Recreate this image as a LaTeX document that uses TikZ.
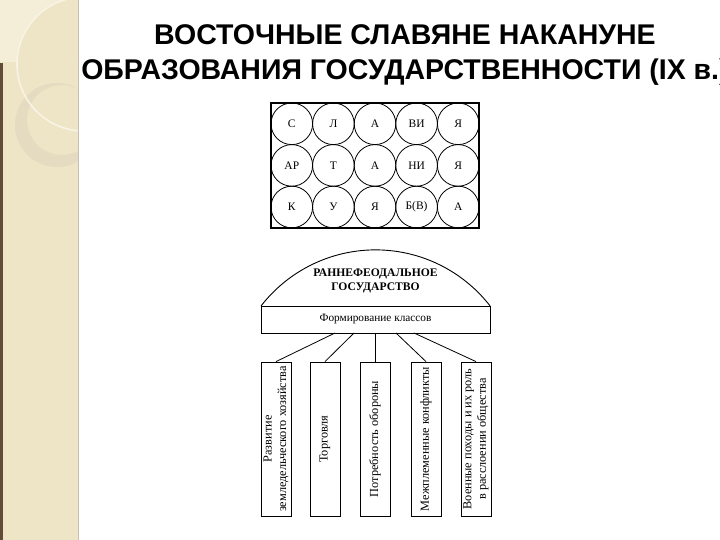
\documentclass[tikz,border=0pt]{standalone}
\usepackage{fontspec}
\setmainfont{Liberation Serif}
\newfontfamily\titlefont{Liberation Sans}
\usepackage{tikz}
\tikzset{>=latex}
\definecolor{stripbg}{RGB}{238,229,199}
\definecolor{striplight}{RGB}{244,237,215}
\definecolor{stripring}{RGB}{228,219,192}
\definecolor{striparc}{RGB}{248,243,228}
\definecolor{stripedge}{RGB}{96,76,56}
\definecolor{stripline}{RGB}{204,190,182}
\begin{document}
\begin{tikzpicture}[x=1pt,y=-1pt,
    letter/.style={circle,draw,line width=0.8pt,minimum size=41.6pt,inner sep=0pt,
      font=\fontsize{11.5}{13}\selectfont},
    factor/.style={draw,line width=0.8pt,rotate=90,minimum width=154pt,minimum height=30pt,
      inner sep=1pt,align=center,font=\fontsize{12.3}{14.5}\selectfont}]
    \useasboundingbox (0,0) rectangle (720,540);
    \fill[white] (0,0) rectangle (720,540);
    \fill[stripbg] (0,0) rectangle (78,540);
    \begin{scope}
     \clip (0,0) rectangle (78,62);
     \fill[striplight,even odd rule] (0,0) rectangle (78,62) (84,64) circle (67);
    \end{scope}
    \begin{scope}
     \clip (0,0) rectangle (78,540);
     \fill[stripring,even odd rule] (57,125) circle (42) (62,120) circle (35);
     \draw[striparc,line width=1.6pt] (84,64) circle (67);
    \end{scope}
    \fill[stripedge] (0,63) rectangle (2.5,540);
    \draw[stripline,line width=1.2pt] (78.6,0) -- (78.6,540);
    \node[font=\titlefont\bfseries\fontsize{28.5}{35}\selectfont,align=center] (title) at (405,55)
     {ВОСТОЧНЫЕ СЛАВЯНЕ НАКАНУНЕ\\ОБРАЗОВАНИЯ ГОСУДАРСТВЕННОСТИ (IX в.)};
    \draw[line width=1.2pt] (271,103) rectangle (479,228);
    \foreach\r/\row in {1/{С,Л,А,ВИ,Я},2/{АР,Т,А,НИ,Я},3/{К,У,Я,Б(В),А}}{
     \foreach\txt [count=\c] in \row {
      \node[letter] (l\r\c) at (271+41.6*\c-20.8,103+41.6*\r-20.8) {\txt};}}
    \draw[line width=0.9pt] (261,306) arc[start angle=217.8,end angle=322.2,radius=145];
    \node[font=\bfseries\fontsize{11.6}{14}\selectfont,align=center] (state) at (375.5,280.5)
     {РАННЕФЕОДАЛЬНОЕ\\ГОСУДАРСТВО};
    \node[draw,line width=0.9pt,minimum width=229pt,minimum height=27pt,inner sep=0pt,
     font=\fontsize{11.3}{13}\selectfont] (classes) at (375.5,319.5) {Формирование классов};
    \node[factor] (b1) at (276,439) {Развитие\\земледельческого хозяйства};
    \node[factor] (b2) at (325,439) {Торговля};
    \node[factor] (b3) at (375,439) {Потребность обороны};
    \node[factor] (b4) at (426,439) {Межплеменные конфликты};
    \node[factor] (b5) at (476,439) {Военные походы и их роль\\в расслоении общества};
    \coordinate (s1) at (335,333);
    \coordinate (s2) at (354,333);
    \coordinate (s3) at (375,333);
    \coordinate (s4) at (396,333);
    \coordinate (s5) at (414,333);
    \foreach\i in {1,...,5}{
     \draw[line width=0.8pt] (s\i) -- (b\i.east);}
  \end{tikzpicture}
\end{document}
